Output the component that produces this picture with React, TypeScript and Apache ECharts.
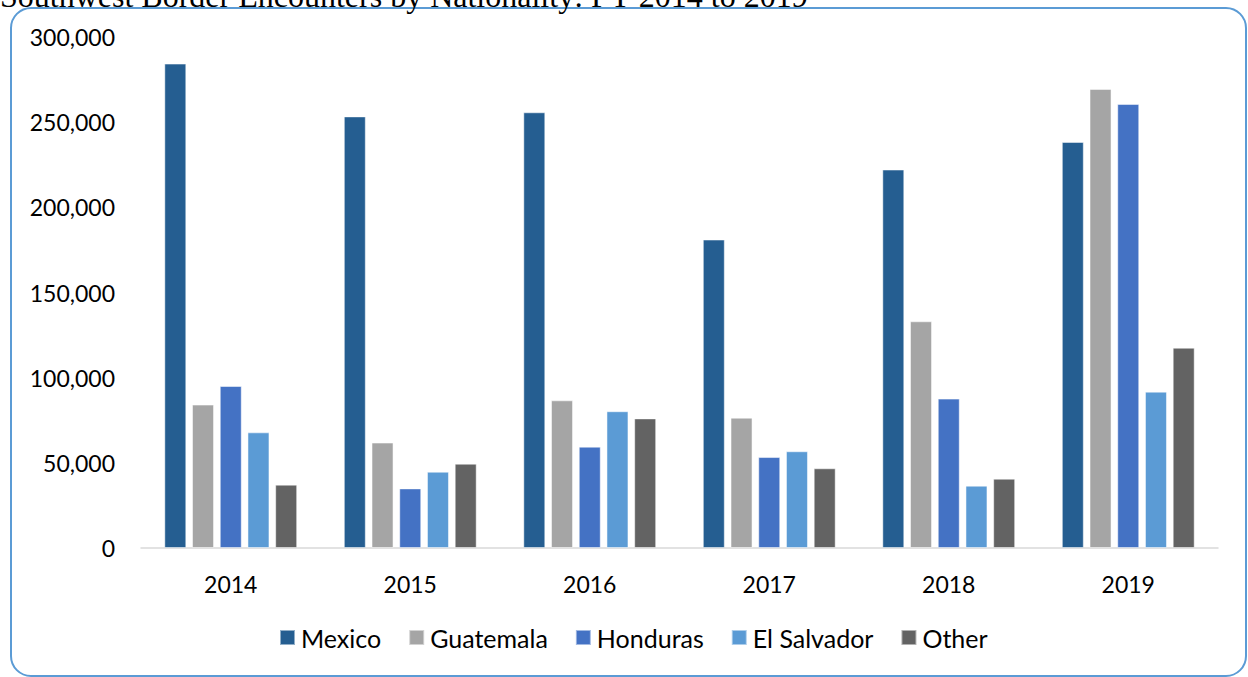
import React, { useEffect, useRef } from "react";
import * as echarts from "echarts";

const years = ["2014", "2015", "2016", "2017", "2018", "2019"];
const mexico = [284400, 253400, 255800, 181100, 222200, 238400];
const guatemala = [84200, 61900, 86700, 76500, 133100, 269500];
const honduras = [95100, 35000, 59500, 53400, 87700, 260700];
const elSalvador = [67900, 44800, 80300, 56800, 36600, 91800];
const other = [37200, 49500, 76100, 46800, 40700, 117600];

const seriesNames = ["Mexico", "Guatemala", "Honduras", "El Salvador", "Other"];
const seriesData = [mexico, guatemala, honduras, elSalvador, other];
const colors = ["#255e91", "#a5a5a5", "#4472c4", "#5b9bd5", "#636363"];

const titleText = "Southwest Border Encounters by Nationality: FY 2014 to 2019";

export default function App() {
  const ref = useRef<HTMLDivElement>(null);
  useEffect(() => {
    document.body.style.margin = "0";
    if (!ref.current) return;
    const chart = echarts.init(ref.current, null, { renderer: "svg" });
    const font = "Lato, 'Noto Sans', sans-serif";
    chart.setOption({
      animation: false,
      backgroundColor: "#ffffff",
      grid: { left: 141, right: 30, top: 37, bottom: 129 },
      legend: {
        data: seriesNames,
        top: 620,
        left: 274,
        itemWidth: 15,
        itemHeight: 15,
        itemGap: 27,
        icon: "rect",
        textStyle: { fontFamily: font, fontSize: 25, color: "#000", padding: [0, 0, 0, 1] },
      },
      xAxis: {
        type: "category",
        data: years,
        axisLine: { lineStyle: { color: "#d9d9d9", width: 1.5 } },
        axisTick: { show: false },
        axisLabel: { fontFamily: font, fontSize: 23, color: "#000", margin: 24 },
      },
      yAxis: {
        type: "value",
        min: 0,
        max: 300000,
        interval: 50000,
        splitLine: { show: false },
        axisLine: { show: false },
        axisTick: { show: false },
        axisLabel: {
          fontFamily: font,
          fontSize: 23,
          color: "#000",
          margin: 26,
          formatter: (v: number) => v.toLocaleString("en-US"),
        },
      },
      series: seriesNames.map((name, i) => ({
        name,
        type: "bar",
        data: seriesData[i],
        barWidth: 22,
        barGap: "26%",
        itemStyle: {
          color: colors[i],
          borderColor: "rgba(255,255,255,0.5)",
          borderWidth: 1,
        },
      })),
      graphic: [
        {
          type: "rect",
          shape: { x: 11, y: 8, width: 1235, height: 668, r: 20 },
          style: { fill: "none", stroke: "#5b9bd5", lineWidth: 2 },
          silent: true,
        },
        {
          type: "text",
          x: 0,
          y: -20,
          style: {
            text: titleText,
            font: "32px 'Liberation Serif', 'Times New Roman', serif",
            fill: "#000",
            textAlign: "left",
          },
        },
      ],
    });
    return () => chart.dispose();
  }, []);
  return <div ref={ref} style={{ width: 1248, height: 677 }} />;
}
